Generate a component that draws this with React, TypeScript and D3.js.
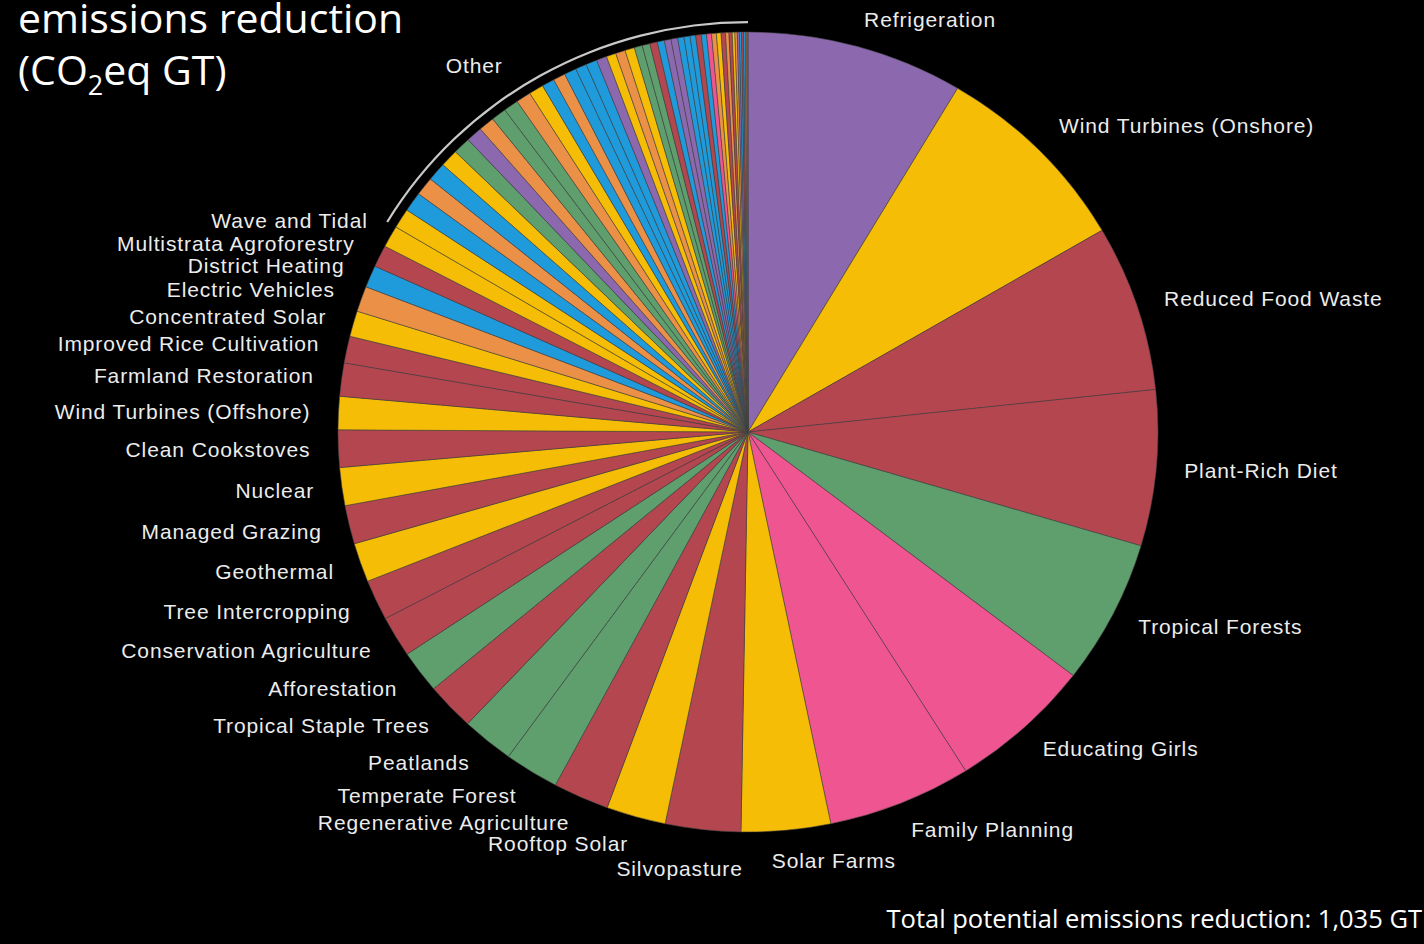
import React from "react";
import * as d3 from "d3";

// ---------- data (GT CO2eq) ----------
const solutionNames = [
  "Refrigeration", "Wind Turbines (Onshore)", "Reduced Food Waste", "Plant-Rich Diet",
  "Tropical Forests", "Educating Girls", "Family Planning", "Solar Farms", "Silvopasture",
  "Rooftop Solar", "Regenerative Agriculture", "Temperate Forest", "Peatlands",
  "Tropical Staple Trees", "Afforestation", "Conservation Agriculture", "Tree Intercropping",
  "Geothermal", "Managed Grazing", "Nuclear", "Clean Cookstoves", "Wind Turbines (Offshore)",
  "Farmland Restoration", "Improved Rice Cultivation", "Concentrated Solar",
  "Electric Vehicles", "District Heating", "Multistrata Agroforestry", "Wave and Tidal",
];
const solutionValues = [
  89.74, 84.6, 70.53, 66.11, 61.23, 59.6, 59.6, 36.9, 31.19, 24.6, 23.15, 22.61, 21.57,
  20.19, 18.06, 17.35, 17.2, 16.6, 16.34, 16.09, 15.81, 14.1, 14.08, 11.34, 10.9, 10.8,
  9.38, 9.28, 9.2,
];
const solutionSectors = [
  "materials", "electricity", "food", "food", "land", "women", "women", "electricity", "food",
  "electricity", "food", "land", "land", "food", "land", "food", "food", "electricity", "food",
  "electricity", "food", "electricity", "food", "food", "electricity", "transport",
  "buildings", "food", "electricity",
];

const otherNames = [
  "Methane Digesters (Large)", "Insulation", "Ships", "LED Lighting (Household)", "Biomass",
  "Bamboo", "Alternative Cement", "Mass Transit", "Forest Protection",
  "Indigenous Peoples' Land Management", "Trucks", "Solar Water", "Heat Pumps", "Airplanes",
  "LED Lighting (Commercial)", "Building Automation", "Water Saving - Home", "Bioplastic",
  "In-Stream Hydro", "Cars", "Cogeneration", "Perennial Bioenergy Crops", "Coastal Wetlands",
  "System of Rice Intensification", "Walkable Cities", "Household Recycling",
  "Industrial Recycling", "Smart Thermostats", "Landfill Methane", "Bike Infrastructure",
  "Composting", "Smart Glass", "Women Smallholders", "Telepresence",
  "Methane Digesters (Small)", "Nutrient Management", "High-speed Rail", "Farmland Irrigation",
  "Waste-to-Energy", "Electric Bikes", "Recycled Paper", "Water Distribution", "Biochar",
  "Green Roofs", "Trains", "Ridesharing", "Micro Wind",
];
const otherValues = [
  8.4, 8.27, 7.87, 7.81, 7.5, 7.22, 6.69, 6.57, 6.2, 6.19, 6.18, 6.08, 5.2, 5.05, 5.04, 4.62,
  4.61, 4.3, 4.0, 4.0, 3.97, 3.33, 3.19, 3.13, 2.92, 2.77, 2.77, 2.62, 2.5, 2.31, 2.28, 2.19,
  2.06, 1.99, 1.9, 1.81, 1.42, 1.33, 1.1, 0.96, 0.9, 0.87, 0.81, 0.77, 0.52, 0.32, 0.2,
];
const otherSectors = [
  "electricity", "buildings", "transport", "buildings", "electricity", "land", "materials",
  "transport", "land", "land", "transport", "electricity", "buildings", "transport",
  "buildings", "buildings", "buildings", "materials", "electricity", "transport",
  "electricity", "land", "land", "food", "buildings", "materials", "materials", "buildings",
  "buildings", "buildings", "food", "buildings", "women", "transport", "electricity", "food",
  "transport", "food", "electricity", "transport", "materials", "buildings", "food",
  "buildings", "transport", "transport", "electricity",
];
const otherLabel = "Other";

const sectorColors: Record<string, string> = {
  materials: "#8c69af",
  electricity: "#f5bd05",
  food: "#b3464f",
  land: "#5f9f6e",
  women: "#ef5691",
  buildings: "#1f9bdc",
  transport: "#eb9147",
};

const titleLine = "emissions reduction";
const totalNote = "Total potential emissions reduction: 1,035 GT";

// ---------- layout ----------
const W = 1424;
const H = 944;
const CX = 748;
const CY = 432;
const R = 400;
const SX = 1.025; // horizontal stretch of the pie
const LABEL_GAP = 28;
const labelNudge: Record<string, [number, number]> = {
  "Wind Turbines (Onshore)": [0, -5],
  "Wave and Tidal": [2, -2],
  "Solar Farms": [-17, 2],
  Silvopasture: [43, 11],
  Other: [-29, 6],
};

type Item = { name: string; value: number; sector: string; other: boolean };

export default function App() {
  const items: Item[] = [
    ...solutionNames.map((n, i) => ({
      name: n, value: solutionValues[i], sector: solutionSectors[i], other: false,
    })),
    ...otherNames.map((n, i) => ({
      name: n, value: otherValues[i], sector: otherSectors[i], other: true,
    })),
  ];

  const arcs = d3
    .pie<Item>()
    .sort(null)
    .value((d) => d.value)
    .startAngle(0)
    .endAngle(2 * Math.PI)(items);

  const arcGen = d3.arc<d3.PieArcDatum<Item>>().innerRadius(0).outerRadius(R);

  const otherArcs = arcs.filter((a) => a.data.other);
  const otherStart = d3.min(otherArcs, (a) => a.startAngle) as number;
  const otherEnd = d3.max(otherArcs, (a) => a.endAngle) as number;
  const bracket = d3
    .arc()
    .innerRadius(R + 8.8)
    .outerRadius(R + 11)({
      innerRadius: R + 8.8,
      outerRadius: R + 11,
      startAngle: otherStart,
      endAngle: otherEnd,
    } as any) as string;

  const labelPos = (angle: number, name: string) => {
    const s = Math.sin(angle);
    const c = Math.cos(angle);
    const nudge = labelNudge[name] || [0, 0];
    return {
      x: CX + s * (R * SX + LABEL_GAP) + nudge[0],
      y: CY - c * (R + LABEL_GAP) + nudge[1],
      anchor: s < 0 ? "end" : "start",
    };
  };

  const labels = arcs
    .filter((a) => !a.data.other)
    .map((a) => ({ name: a.data.name, ...labelPos((a.startAngle + a.endAngle) / 2, a.data.name) }));
  labels.push({ name: otherLabel, ...labelPos((otherStart + otherEnd) / 2, otherLabel) });

  const labelFont = "'Liberation Sans', Arial, Helvetica, sans-serif";
  const titleFont = "'Open Sans', 'Noto Sans', sans-serif";

  return (
    <svg
      width={W}
      height={H}
      style={{ position: "fixed", left: 0, top: 0, display: "block" }}
    >
      <rect x={0} y={0} width={W} height={H} fill="#000" />
      <g transform={`translate(${CX},${CY}) scale(${SX},1)`}>
        {arcs.map((a, i) => (
          <path
            key={i}
            d={arcGen(a) as string}
            fill={sectorColors[a.data.sector]}
            stroke="#444"
            strokeWidth={0.7}
            strokeOpacity={0.8}
            vectorEffect="non-scaling-stroke"
          />
        ))}
        <path d={bracket} fill="#c9c9c9" />
      </g>
      {labels.map((l, i) => (
        <text
          key={i}
          x={l.x}
          y={l.y}
          textAnchor={l.anchor}
          dominantBaseline="central"
          fill="#ececec"
          fontFamily={labelFont}
          fontSize={21}
          letterSpacing={0.9}
        >
          {l.name}
        </text>
      ))}
      <text x={18} y={33} fill="#fff" fontFamily={titleFont} fontSize={41}>
        {titleLine}
      </text>
      <text x={18} y={85} fill="#fff" fontFamily={titleFont} fontSize={41}>
        (CO
        <tspan fontSize={27} dy={10}>2</tspan>
        <tspan dy={-10}>eq GT)</tspan>
      </text>
      <text
        x={1422}
        y={928}
        textAnchor="end"
        fill="#fff"
        fontFamily={titleFont}
        fontSize={25.5}
      >
        {totalNote}
      </text>
    </svg>
  );
}
